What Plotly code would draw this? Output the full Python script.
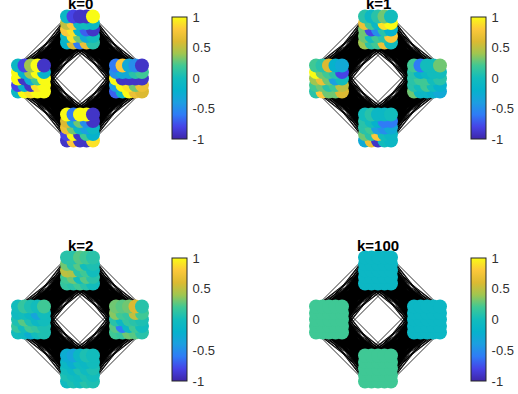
import plotly.graph_objects as go

TITLES = ["k=0", "k=1", "k=2", "k=100"]
TICK_VALS = [-1, -0.5, 0, 0.5, 1]
TICK_TEXT = ["-1", "-0.5", "0", "0.5", "1"]
PARULA = [[0, "#3e26a8"], [0.1, "#4643e6"], [0.2, "#2f7cf6"], [0.3, "#1c9fe0"], [0.4, "#06b2cc"],
          [0.5, "#12bcbc"], [0.6, "#3fc895"], [0.7, "#a0c650"], [0.8, "#dcba32"], [0.9, "#fcc83a"], [1, "#f9fb15"]]

CLUSTER_NAMES = ["top", "left", "right", "bottom"]
CLUSTER_X = [0, -1, 1, 0]
CLUSTER_Y = [1, 0, 0, -1]
GRID = [-0.265, -0.1325, 0, 0.1325, 0.265]
LINKS = [(0, 1), (0, 2), (3, 1), (3, 2)]

K0_TOP = [[-0.1, -0.8, -0.9, -0.9, 1], [0.5, 0.8, -0.1, 0.0, -0.1], [0.8, 0.9, -0.2, -0.7, -0.9], [-0.1, 0.9, 0.3, -0.3, 0.0], [-0.2, 0.6, -0.6, 0.7, 0.1]]
K0_LEFT = [[-0.1, -0.8, 0.4, 1, -0.9], [1, -0.2, 0.4, 1, -0.2], [1, -0.9, -0.3, 0.2, 1], [-0.8, -0.2, -0.9, 0.9, 1], [-0.1, 1, 0.9, 1, 1]]
K0_RIGHT = [[-0.6, 0.8, -0.3, -0.5, -0.9], [-0.5, -0.3, -0.3, 0.1, 0.2], [1, -0.9, -0.9, -0.9, -0.9], [-0.4, 1, 0.9, 0.3, 0.7], [-0.7, -0.1, 1, 0.7, 0.6]]
K0_BOTTOM = [[1, -0.6, 1, 1, -0.9], [0.6, -0.3, 0.3, -0.5, -0.9], [0.7, 0.3, -0.1, -0.4, -0.1], [-0.8, 1, -0.9, 0.2, -0.2], [-0.9, 0.8, -0.9, -0.9, 0.9]]

K1_TOP = [[0.1, -0.1, 0.1, 0.3, 0.0], [0.7, 0.2, -0.1, 0.9, 1], [0.3, -0.8, -0.5, 0.1, -0.2], [0.3, 0, 0.2, 0.1, 0.8], [0.4, 0.1, 0.2, 0.7, 0]]
K1_LEFT = [[0.2, 0.1, 0.6, -0.2, -0.3], [1, 0.3, 0.2, 0.1, -0.8], [0.4, 0.7, 0.3, -0.4, 0], [0.2, 0.3, 0.1, 0.2, 0.5], [0.1, 0.8, 0.3, 0.3, 0.6]]
K1_RIGHT = [[0.2, -0.6, 0, 0, 0.3], [0.1, -0.2, -0.1, 0, 0], [0.1, 0.2, 0.2, 0, 0.1], [0.1, 0, 0.2, 0, -0.2], [0.3, -0.1, -0.1, -0.2, -0.3]]
K1_BOTTOM = [[0, 0.1, -0.1, -0.1, 0], [0.1, 0, -0.2, -0.6, -0.6], [0.1, 0.2, -0.4, -0.5, -0.3], [0.3, 0.1, 0.8, 0, -0.1], [-0.3, 0.7, -0.9, 0, -0.1]]

K2_TOP = [[0.1, 0.1, 0.25, 0.2, 0.1], [0.3, 0.1, 0.25, 0.0, 0.05], [0.5, 0.45, 0.1, 0.2, 0.0], [0.2, 0.3, 0.0, 0.25, 0.1], [0.15, 0.1, 0.2, 0.1, 0.0]]
K2_LEFT = [[0.0, 0.15, 0.05, 0.0, 0.2], [-0.05, 0.0, -0.1, -0.35, 0.0], [0.05, 0.25, 0.05, -0.1, 0.0], [0.15, 0.0, 0.2, 0.15, 0.05], [0.0, -0.05, -0.25, 0.0, 0.05]]
K2_RIGHT = [[0.3, 0.25, 0.3, 0.6, 0.1], [0.35, 0.2, 0.15, 0.5, 0.2], [0.1, -0.1, 0.15, 0.1, 0.05], [0.25, -0.6, -0.1, 0.2, 0.0], [0.2, 0.15, 0.3, 0.25, 0.1]]
K2_BOTTOM = [[-0.25, -0.35, -0.1, 0.05, 0.0], [-0.1, -0.25, -0.05, -0.1, 0.0], [0.0, -0.1, 0.05, -0.05, 0.05], [0.05, 0.0, -0.05, 0.05, 0.0], [-0.05, 0.05, 0.0, 0.1, 0.05]]

K100_TOP = [[-0.1] * 5] * 5
K100_LEFT = [[0.2] * 5] * 5
K100_RIGHT = [[-0.1] * 5] * 5
K100_BOTTOM = [[0.2] * 5] * 5

PANELS = [[K0_TOP, K0_LEFT, K0_RIGHT, K0_BOTTOM], [K1_TOP, K1_LEFT, K1_RIGHT, K1_BOTTOM],
          [K2_TOP, K2_LEFT, K2_RIGHT, K2_BOTTOM], [K100_TOP, K100_LEFT, K100_RIGHT, K100_BOTTOM]]

W, H = 518, 394
CENTRES = [(80, 78.5), (378, 78.5), (80, 319.5), (378, 319.5)]
BARS = [(172, 17, 139), (470.5, 17, 139), (172, 258, 381), (471, 258, 381)]
HALF_PX = 69
UNIT_PX = 49
SPAN = HALF_PX / UNIT_PX

fig = go.Figure()
layout = {}
for p, clusters in enumerate(PANELS):
    s = "" if p == 0 else str(p + 1)
    cx, cy = CENTRES[p]
    layout[f"xaxis{s}"] = dict(domain=[(cx - HALF_PX) / W, (cx + HALF_PX) / W], range=[-SPAN, SPAN], visible=False)
    layout[f"yaxis{s}"] = dict(domain=[1 - (cy + HALF_PX) / H, 1 - (cy - HALF_PX) / H], range=[-SPAN, SPAN], visible=False)
    ex, ey = [], []
    for a, b in LINKS:
        for i, ga in enumerate(GRID):
            for j, ha in enumerate(GRID):
                for k, gb in enumerate(GRID):
                    for l, hb in enumerate(GRID):
                        if (i + j + k + l) % 2 == 0:
                            ex += [CLUSTER_X[a] + ga, CLUSTER_X[b] + gb, None]
                            ey += [CLUSTER_Y[a] + ha, CLUSTER_Y[b] + hb, None]
    fig.add_trace(go.Scatter(x=ex, y=ey, mode="lines", line=dict(color="black", width=0.8),
                             hoverinfo="skip", showlegend=False, xaxis=f"x{s}", yaxis=f"y{s}"))
    xs, ys, cs = [], [], []
    for c, rows in enumerate(clusters):
        for r in range(4, -1, -1):
            for col in range(5):
                xs.append(CLUSTER_X[c] + GRID[col])
                ys.append(CLUSTER_Y[c] + GRID[4 - r])
                cs.append(rows[r][col])
    fig.add_trace(go.Scatter(x=xs, y=ys, mode="markers", cliponaxis=False,
                             marker=dict(size=14, color=cs, coloraxis=f"coloraxis{s}", line=dict(width=0)),
                             showlegend=False, xaxis=f"x{s}", yaxis=f"y{s}"))
    bx, by0, by1 = BARS[p]
    layout[f"coloraxis{s}"] = dict(
        colorscale=PARULA, cmin=-1, cmax=1,
        colorbar=dict(xref="container", yref="container", x=bx / W, xanchor="left",
                      y=1 - by1 / H, yanchor="bottom", thickness=15, thicknessmode="pixels",
                      len=by1 - by0, lenmode="pixels", xpad=0, ypad=0,
                      tickvals=TICK_VALS, ticktext=TICK_TEXT, ticks="outside", ticklen=3,
                      tickcolor="rgba(0,0,0,0)", outlinecolor="#262626", outlinewidth=1,
                      borderwidth=0, tickfont=dict(family="Liberation Sans", size=13, color="#303030")))
    top_px = cy - 69
    fig.add_annotation(text=f"<b>{TITLES[p]}</b>", xref="paper", yref="paper", x=cx / W, y=1 - (top_px + 1) / H,
                       xanchor="center", yanchor="bottom", showarrow=False, yshift=-4,
                       font=dict(family="Liberation Sans", size=15, color="black"))

fig.update_layout(width=W, height=H, margin=dict(l=0, r=0, t=0, b=0, autoexpand=False), paper_bgcolor="white",
                  plot_bgcolor="rgba(0,0,0,0)", **layout)
fig.write_html("out.html", config={"displayModeBar": False},
               post_script="document.body.style.margin='0';document.body.style.overflow='hidden';")
